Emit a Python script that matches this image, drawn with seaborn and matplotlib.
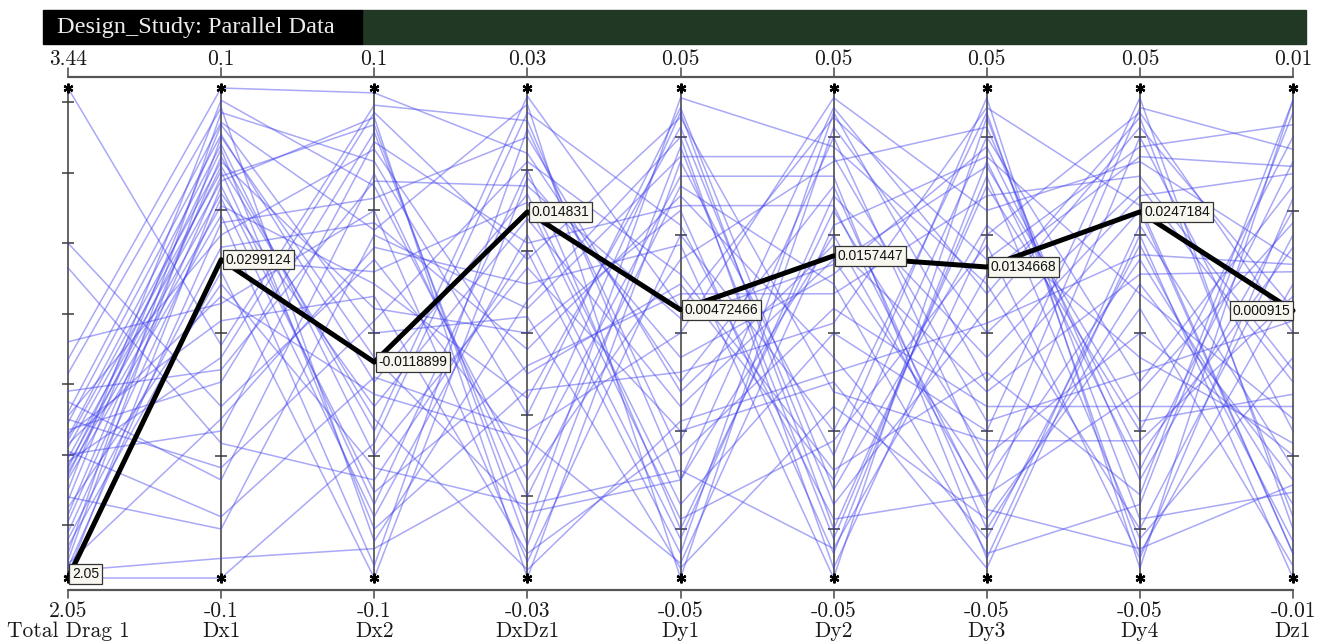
import numpy as np
import pandas as pd
import matplotlib
matplotlib.use("Agg")
import matplotlib.pyplot as plt
from matplotlib.patches import Rectangle
import seaborn as sns

# axes of the parallel plot
axis_names = ["Total Drag 1", "Dx1", "Dx2", "DxDz1", "Dy1", "Dy2", "Dy3", "Dy4", "Dz1"]
axis_min = [2.05, -0.1, -0.1, -0.03, -0.05, -0.05, -0.05, -0.05, -0.01]
axis_max = [3.44, 0.1, 0.1, 0.03, 0.05, 0.05, 0.05, 0.05, 0.01]
min_labels = ["2.05", "-0.1", "-0.1", "-0.03", "-0.05", "-0.05", "-0.05", "-0.05", "-0.01"]
max_labels = ["3.44", "0.1", "0.1", "0.03", "0.05", "0.05", "0.05", "0.05", "0.01"]
axis_ticks = [
    [2.2, 2.4, 2.6, 2.8, 3.0, 3.2, 3.4],
    [-0.05, 0.0, 0.05],
    [-0.05, 0.0, 0.05],
    [-0.02, -0.01, 0.0, 0.01, 0.02],
    [-0.04, -0.02, 0.0, 0.02, 0.04],
    [-0.04, -0.02, 0.0, 0.02, 0.04],
    [-0.04, -0.02, 0.0, 0.02, 0.04],
    [-0.04, -0.02, 0.0, 0.02, 0.04],
    [-0.005, 0.0, 0.005],
]

# design runs
total_drag = [3.44, 3.00, 2.93, 2.72, 2.67, 2.63, 2.55, 2.52, 2.51, 2.49,
              2.47, 2.45, 2.44, 2.42, 2.41, 2.39, 2.37, 2.35, 2.33, 2.30,
              2.27, 2.23, 2.21, 2.18, 2.16, 2.14, 2.12, 2.10, 2.09, 2.08,
              2.07, 2.06, 2.06, 2.05, 2.46, 2.38, 2.43, 2.50, 2.36, 2.28,
              2.25, 2.40, 2.34, 2.58]
dx1 = [-0.005, -0.03, -0.045, 0.012, 0.1, 0.092, -0.06, 0.086, 0.04, 0.081,
       -0.02, 0.077, 0.07, 0.066, -0.075, 0.062, 0.057, 0.052, 0.048, 0.095,
       0.085, 0.072, 0.064, 0.055, 0.035, 0.025, 0.09, 0.08, -0.035, 0.045,
       -0.092, 0.03, 0.06, -0.1, 0.005, -0.01, 0.015, -0.055, 0.075, -0.08,
       0.02, -0.04, 0.068, -0.015]
dx2 = [0.093, 0.03, -0.06, 0.05, 0.098, -0.085, 0.065, 0.042, 0.075, -0.02,
       0.082, -0.05, 0.01, -0.07, -0.018, 0.088, -0.03, 0.02, -0.095, 0.06,
       0.0, -0.04, 0.085, -0.075, 0.045, -0.1, 0.07, -0.01, 0.035, 0.055,
       -0.088, 0.025, -0.065, -0.045, 0.015, 0.09, -0.025, 0.005, -0.08, 0.04,
       -0.055, 0.078, -0.035, 0.062]
dxdz1 = [0.026, -0.015, 0.01, -0.028, 0.022, 0.004, -0.02, 0.028, -0.005, 0.017,
         -0.024, 0.008, 0.0, 0.02, -0.012, -0.03, 0.014, -0.008, 0.025, -0.018,
         0.002, 0.029, -0.026, 0.012, -0.002, 0.019, -0.01, -0.022, 0.006, 0.024,
         -0.016, 0.016, -0.004, 0.027, -0.027, 0.009, -0.013, 0.021, -0.007, 0.003,
         -0.021, 0.011, -0.029, 0.018]
dy1 = [-0.03, 0.045, -0.045, 0.02, -0.01, 0.04, 0.03, -0.05, 0.01, -0.035,
       0.048, -0.02, 0.025, -0.04, 0.0, 0.035, -0.015, 0.042, -0.025, 0.015,
       -0.048, 0.005, 0.038, -0.042, 0.028, -0.005, 0.046, -0.03, 0.018, -0.012,
       0.032, -0.038, 0.008, 0.022, -0.022, 0.044, -0.047, 0.012, -0.008, 0.036,
       -0.028, 0.026, -0.018, 0.003]
dy2 = [0.02, -0.04, 0.045, -0.02, 0.03, -0.048, 0.01, 0.042, -0.03, 0.0,
       0.038, -0.01, -0.045, 0.025, 0.048, -0.025, 0.015, -0.035, 0.005, 0.035,
       -0.015, 0.044, -0.042, 0.028, -0.005, 0.012, -0.032, 0.04, -0.05, 0.018,
       0.032, -0.022, 0.008, -0.038, 0.046, -0.012, 0.022, -0.028, 0.002, 0.036,
       -0.044, 0.026, -0.008, 0.014]
dy3 = [-0.035, 0.03, -0.01, 0.045, -0.04, 0.02, -0.045, 0.0, 0.04, -0.02,
       0.01, -0.048, 0.035, -0.025, 0.025, 0.048, -0.03, 0.005, -0.015, 0.042,
       -0.038, 0.015, 0.032, -0.005, -0.042, 0.038, 0.022, -0.028, 0.044, -0.012,
       -0.046, 0.018, 0.028, -0.033, 0.008, -0.022, 0.036, -0.008, 0.046, -0.018,
       0.012, -0.036, 0.002, 0.034]
dy4 = [0.04, -0.02, 0.025, -0.045, 0.01, 0.045, -0.035, 0.03, -0.01, 0.048,
       -0.04, 0.02, -0.028, 0.0, 0.035, -0.048, 0.015, 0.042, -0.015, -0.03,
       0.005, 0.038, -0.042, 0.028, 0.018, -0.025, -0.005, 0.046, -0.038, 0.012,
       0.022, -0.046, 0.032, -0.012, 0.044, -0.022, 0.008, -0.033, 0.026, -0.008,
       0.036, -0.044, 0.016, -0.018]
dz1 = [-0.004, 0.008, -0.009, 0.002, -0.006, 0.0, 0.009, -0.002, 0.006, -0.008,
       0.004, -0.01, 0.007, -0.005, 0.003, 0.0095, -0.007, 0.001, -0.003, 0.005,
       -0.0095, 0.0085, -0.001, 0.0065, -0.0085, 0.0035, -0.0045, 0.0075, -0.0065, 0.0025,
       -0.0055, 0.0055, -0.0015, 0.0045, -0.0075, 0.0015, -0.0035, 0.0095, -0.009, 0.0005,
       0.0068, -0.0062, 0.0028, -0.0025]

# the selected design
highlight = [2.05, 0.0299124, -0.0118899, 0.014831, 0.00472466,
             0.0157447, 0.0134668, 0.0247184, 0.000915]
highlight_labels = ["2.05", "0.0299124", "-0.0118899", "0.014831", "0.00472466",
                    "0.0157447", "0.0134668", "0.0247184", "0.000915"]

columns = [total_drag, dx1, dx2, dxdz1, dy1, dy2, dy3, dy4, dz1]

# long form table, each axis scaled to 0..1
rows = []
for j, col in enumerate(columns):
    for i, v in enumerate(col):
        rows.append((i, j, (v - axis_min[j]) / (axis_max[j] - axis_min[j])))
df = pd.DataFrame(rows, columns=["run", "pos", "norm"])
hl = pd.DataFrame({
    "run": 0,
    "pos": range(len(highlight)),
    "norm": [(v - lo) / (hi - lo) for v, lo, hi in zip(highlight, axis_min, axis_max)],
})

sns.set_style("white")
W, H = 1326, 642
fig = plt.figure(figsize=(W / 100, H / 100), dpi=100)
fig.patch.set_facecolor("white")

# title bar
fig.patches.append(Rectangle((362 / W, 1 - 44 / H), (1306 - 362) / W, 34 / H,
                             transform=fig.transFigure, color="#203824", zorder=0))
fig.patches.append(Rectangle((43 / W, 1 - 44 / H), (362 - 43) / W, 34 / H,
                             transform=fig.transFigure, color="black", zorder=0))
fig.text(57 / W, 1 - 28 / H, "Design_Study: Parallel Data", family="Liberation Serif",
         fontsize=17.5, color="#ececec", ha="left", va="center")

ax = fig.add_axes([68 / W, (H - 578) / H, (1293 - 68) / W, 490 / H])

n = len(axis_names)
xs = np.arange(n)

# vertical axes
for j in range(n):
    ax.plot([j, j], [0, 1], color="#3a3a3a", lw=1.1, zorder=1, clip_on=False)
    tn = [(t - axis_min[j]) / (axis_max[j] - axis_min[j]) for t in axis_ticks[j]]
    ax.plot([j] * len(tn), tn, ls="none", marker="_", ms=8, mew=1.1,
            color="#3a3a3a", zorder=1)

# runs
sns.lineplot(data=df, x="pos", y="norm", units="run", estimator=None, sort=False,
             color="#4040ee", alpha=0.45, lw=1.1, legend=False, ax=ax, zorder=2)
sns.lineplot(data=hl, x="pos", y="norm", units="run", estimator=None, sort=False,
             color="black", lw=3.6, legend=False, ax=ax, zorder=4)
for ln in ax.lines:
    ln.set_clip_on(False)
ax.set_xlim(0, 8)
ax.set_ylim(0, 1)
ax.axis("off")

# end markers
ax.plot(xs, [1] * n, ls="none", marker=(6, 2, 0), ms=7, mew=1.6, color="black",
        zorder=5, clip_on=False)
ax.plot(xs, [0] * n, ls="none", marker=(6, 2, 0), ms=7, mew=1.6, color="black",
        zorder=5, clip_on=False)

# top and bottom range rules
top_y, bot_y = 1 + 11 / 490, -12 / 490
ax.plot([0, n - 1], [top_y, top_y], color="#555555", lw=1.6, clip_on=False)
ax.plot([0, n - 1], [bot_y, bot_y], color="#555555", lw=1.6, clip_on=False)
for j in range(n):
    ax.plot([j, j], [top_y, top_y + 9 / 490], color="#555555", lw=1.2, clip_on=False)
    ax.plot([j, j], [bot_y, bot_y - 8 / 490], color="#555555", lw=1.2, clip_on=False)
    ax.text(j, 1 + 29 / 490, max_labels[j], family="cmr10", fontsize=15.5,
            ha="center", va="center", color="#1a1a1a")
    ax.text(j, -33 / 490, min_labels[j], family="cmr10", fontsize=15.5,
            ha="center", va="center", color="#1a1a1a")
    ax.text(j, -53 / 490, axis_names[j], family="cmr10", fontsize=15.5,
            ha="center", va="center", color="#1a1a1a")

# value boxes on the selected design
for j in range(n):
    last = j == n - 1
    ax.annotate(highlight_labels[j], (j, hl["norm"][j]),
                xytext=(-2 if last else 3, 0 if j else 3), textcoords="offset points",
                ha="right" if last else "left", va="center",
                family="Liberation Sans", fontsize=10, color="#111111", zorder=6,
                annotation_clip=False,
                bbox=dict(boxstyle="square,pad=0.2", fc="#f7f7ef", ec="#333333", lw=0.9))

fig.savefig("out.png", dpi=100)
